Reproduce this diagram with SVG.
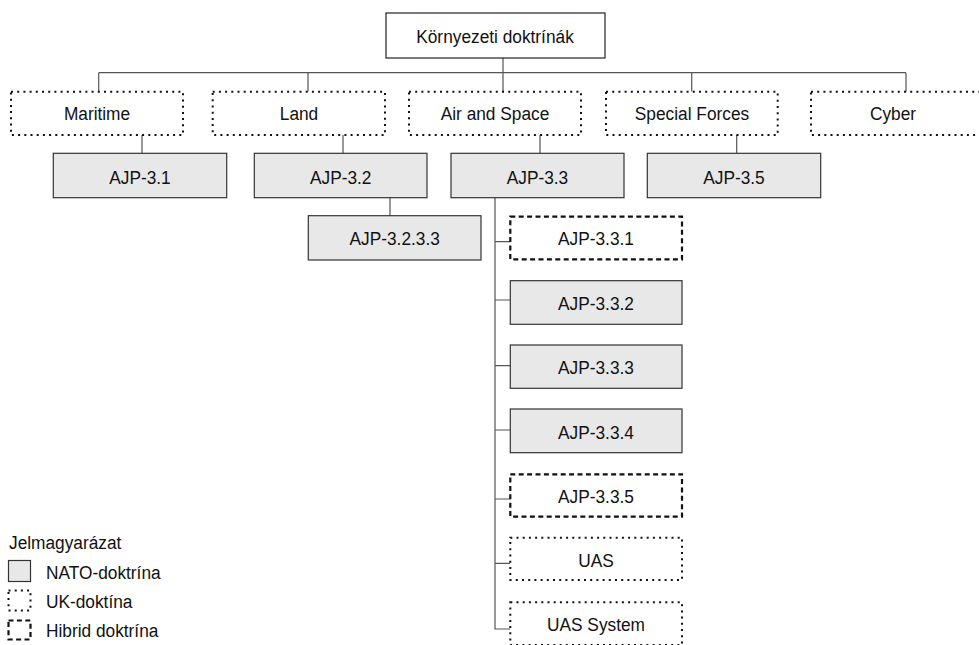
<svg xmlns="http://www.w3.org/2000/svg" width="979" height="645" viewBox="0 0 979 645">
<style>
text{font-family:"Liberation Sans",Arial,sans-serif;font-size:19px;fill:#111;text-anchor:middle}
.plain{fill:#fff;stroke:#222;stroke-width:1.2}
.nato{fill:#e8e8e8;stroke:#333;stroke-width:1.2}
.uk{fill:#fff;stroke:#111;stroke-width:2;stroke-dasharray:2 4.2}
.hyb{fill:#fff;stroke:#111;stroke-width:2.2;stroke-dasharray:5 3.4}
.conn{fill:none;stroke:#555;stroke-width:1.2}
.leg{text-anchor:start}
</style>
<g id="connectors">
<path class="conn" d="M503 58V72.7M98.7 72.7H906M98.7 72.7V91.7M308 72.7V91.7M503 72.7V91.7M691.7 72.7V91.7M906 72.7V91.7"/>
<path class="conn" d="M142 135V153.3M343 135V153.3M540 135V153.3M736.7 135V153.3"/>
<path class="conn" d="M390 197.7V215.7"/>
<path class="conn" d="M495 197.7V629H510.7M495 241.7H510M495 300H510M495 365.7H510M495 430H510M495 499H510M495 563.3H510"/>
</g>
<g id="root"><rect class="plain" x="386" y="13" width="219" height="45"/><text transform="translate(495 42.7) scale(0.91 1)">Környezeti doktrínák</text></g>
<g id="maritime"><rect class="uk" x="11" y="91.7" width="172" height="43.3"/><text transform="translate(97 120) scale(0.91 1)">Maritime</text></g>
<g id="land"><rect class="uk" x="212.7" y="91.7" width="172.3" height="43.3"/><text transform="translate(299 120) scale(0.91 1)">Land</text></g>
<g id="airspace"><rect class="uk" x="409" y="91.7" width="172" height="43.3"/><text transform="translate(495 120) scale(0.91 1)">Air and Space</text></g>
<g id="specialforces"><rect class="uk" x="606" y="91.7" width="171.7" height="43.3"/><text transform="translate(692 120) scale(0.91 1)">Special Forces</text></g>
<g id="cyber"><rect class="uk" x="811" y="91.7" width="172" height="43.3"/><text transform="translate(893 120) scale(0.91 1)">Cyber</text></g>
<g id="ajp31"><rect class="nato" x="53.3" y="153.3" width="173.4" height="44.4"/><text transform="translate(140 184.3) scale(0.91 1)">AJP-3.1</text></g>
<g id="ajp32"><rect class="nato" x="254.3" y="153.3" width="172.7" height="44.4"/><text transform="translate(340.7 184.3) scale(0.91 1)">AJP-3.2</text></g>
<g id="ajp33"><rect class="nato" x="451" y="153.3" width="173" height="44.4"/><text transform="translate(537.5 184.3) scale(0.91 1)">AJP-3.3</text></g>
<g id="ajp35"><rect class="nato" x="647.3" y="153.3" width="173.4" height="44.4"/><text transform="translate(734 184.3) scale(0.91 1)">AJP-3.5</text></g>
<g id="ajp3233"><rect class="nato" x="308.3" y="215.7" width="172.7" height="44.3"/><text transform="translate(394.7 245) scale(0.91 1)">AJP-3.2.3.3</text></g>
<g id="ajp331"><rect class="hyb" x="510.3" y="216.7" width="171.7" height="42.6"/><text transform="translate(596 245) scale(0.91 1)">AJP-3.3.1</text></g>
<g id="ajp332"><rect class="nato" x="510.3" y="280.7" width="171.7" height="43.6"/><text transform="translate(596 310) scale(0.91 1)">AJP-3.3.2</text></g>
<g id="ajp333"><rect class="nato" x="510.3" y="345" width="171.7" height="43.3"/><text transform="translate(596 374) scale(0.91 1)">AJP-3.3.3</text></g>
<g id="ajp334"><rect class="nato" x="510.3" y="409" width="171.7" height="43.7"/><text transform="translate(596 438.5) scale(0.91 1)">AJP-3.3.4</text></g>
<g id="ajp335"><rect class="hyb" x="510.3" y="474.3" width="171.7" height="42.4"/><text transform="translate(596 503) scale(0.91 1)">AJP-3.3.5</text></g>
<g id="uas"><rect class="uk" x="510.3" y="537.7" width="171.7" height="42.3"/><text transform="translate(596 566.5) scale(0.91 1)">UAS</text></g>
<g id="uassystem"><rect class="uk" x="510.3" y="602.3" width="171.7" height="42.7"/><text transform="translate(596 631) scale(0.91 1)">UAS System</text></g>
<g id="legend">
<text class="leg" transform="translate(9 549) scale(0.91 1)">Jelmagyarázat</text>
<rect class="nato" x="8.5" y="560.5" width="22" height="21"/>
<text class="leg" transform="translate(46 579) scale(0.91 1)">NATO-doktrína</text>
<rect class="uk" x="8.5" y="590.5" width="22" height="20"/>
<text class="leg" transform="translate(46 608) scale(0.91 1)">UK-doktína</text>
<rect class="hyb" x="8.5" y="620.5" width="22" height="19"/>
<text class="leg" transform="translate(46 637) scale(0.91 1)">Hibrid doktrína</text>
</g>
</svg>
